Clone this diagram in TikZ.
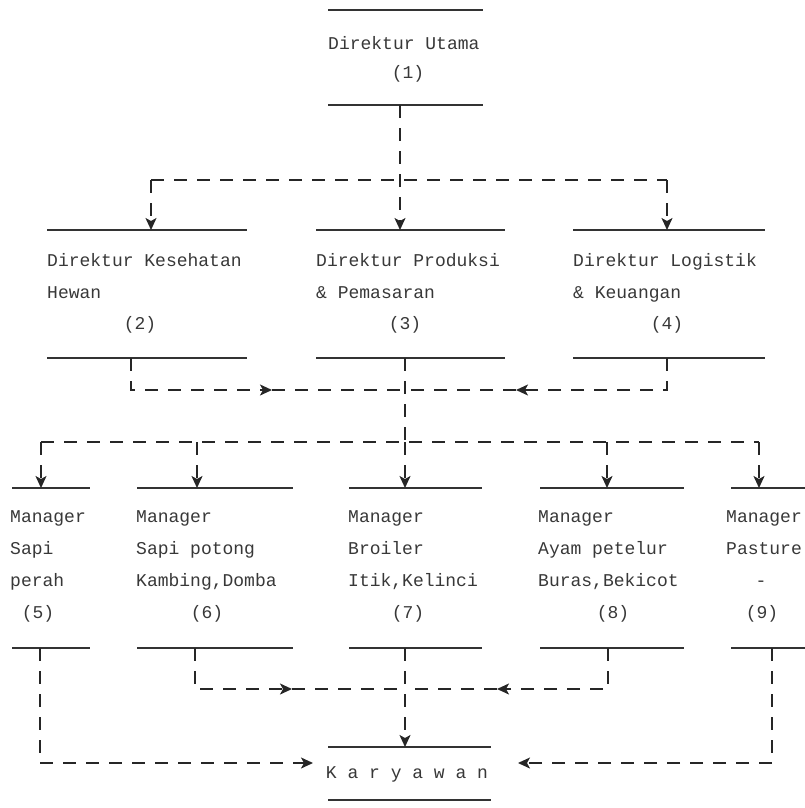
\documentclass[tikz,border=0pt]{standalone}
\usepackage{fontspec}
\newfontfamily\mfont{Liberation Mono}
\usetikzlibrary{arrows.meta}
\begin{document}
\begin{tikzpicture}[x=1pt,y=-1pt,
  rule/.style={line width=1.6pt, draw=black!80},
  conn/.style={line width=1.6pt, draw=black!85, dash pattern=on 13pt off 10pt},
  tip/.style={-{Stealth[length=12pt,width=11pt,inset=3pt]}},
  box/.style={rectangle, inner sep=0pt, outer sep=0pt},
  txt/.style={font=\mfont\fontsize{18}{20}\selectfont, text=black!78, inner sep=0pt, anchor=base west},
  num/.style={txt, anchor=base}]
\useasboundingbox (0,0) rectangle (804,808);

% boxes (pairs of rules)
\node[box, minimum width=155pt, minimum height=95pt]  (b1) at (405.5,57.5) {};
\node[box, minimum width=200pt, minimum height=128pt] (b2) at (147,294) {};
\node[box, minimum width=189pt, minimum height=128pt] (b3) at (410.5,294) {};
\node[box, minimum width=192pt, minimum height=128pt] (b4) at (669,294) {};
\node[box, minimum width=78pt,  minimum height=160pt] (b5) at (51,568) {};
\node[box, minimum width=156pt, minimum height=160pt] (b6) at (215,568) {};
\node[box, minimum width=133pt, minimum height=160pt] (b7) at (415.5,568) {};
\node[box, minimum width=144pt, minimum height=160pt] (b8) at (612,568) {};
\node[box, minimum width=75pt,  minimum height=160pt] (b9) at (768.5,568) {};
\node[box, minimum width=163pt, minimum height=53pt]  (bK) at (409.5,773.5) {};
\foreach \n in {b1,b2,b3,b4,b5,b6,b7,b8,b9,bK}
  \draw[rule] (\n.north west) -- (\n.north east) (\n.south west) -- (\n.south east);

% texts
\node[txt] (t1a) at (328,49) {Direktur Utama};
\node[num] (t1b) at (408,78) {(1)};

\node[txt] (t2a) at (47,266) {Direktur Kesehatan};
\node[txt] (t2b) at (47,298) {Hewan};
\node[num] (t2c) at (140,329) {(2)};

\node[txt] (t3a) at (316,266) {Direktur Produksi};
\node[txt] (t3b) at (316,298) {\& Pemasaran};
\node[num] (t3c) at (405,329) {(3)};

\node[txt] (t4a) at (573,266) {Direktur Logistik};
\node[txt] (t4b) at (573,298) {\& Keuangan};
\node[num] (t4c) at (667,329) {(4)};

\node[txt] (t5a) at (10,522) {Manager};
\node[txt] (t5b) at (10,554) {Sapi};
\node[txt] (t5c) at (10,586) {perah};
\node[num] (t5d) at (38,618) {(5)};

\node[txt] (t6a) at (136,522) {Manager};
\node[txt] (t6b) at (136,554) {Sapi potong};
\node[txt] (t6c) at (136,586) {Kambing,Domba};
\node[num] (t6d) at (207,618) {(6)};

\node[txt] (t7a) at (348,522) {Manager};
\node[txt] (t7b) at (348,554) {Broiler};
\node[txt] (t7c) at (348,586) {Itik,Kelinci};
\node[num] (t7d) at (408,618) {(7)};

\node[txt] (t8a) at (538,522) {Manager};
\node[txt] (t8b) at (538,554) {Ayam petelur};
\node[txt] (t8c) at (538,586) {Buras,Bekicot};
\node[num] (t8d) at (613,618) {(8)};

\node[txt] (t9a) at (726,522) {Manager};
\node[txt] (t9b) at (726,554) {Pasture};
\node[num] (t9c) at (761,586) {-};
\node[num] (t9d) at (762,618) {(9)};

\node[num] (tK) at (407,778) {K a r y a w a n};

% level 1 -> level 2
\coordinate (j1)  at (400,180);
\coordinate (j2L) at (151,180);
\coordinate (j2R) at (667,180);
\draw[conn,tip] (b1.south -| j1) -- (j1 |- b3.north);
\draw[conn] (j2L) -- (j2R);
\draw[conn,tip] (j2L) -- (j2L |- b2.north);
\draw[conn,tip] (j2R) -- (j2R |- b4.north);

% level 2 outputs
\coordinate (o2) at (131,390);
\coordinate (o4) at (667,390);
\coordinate (a2) at (272,390);
\coordinate (a4) at (516,390);
\coordinate (m2) at (405,390);
\draw[conn,tip] (b2.south -| o2) |- (a2);
\draw[conn] (a2) -- (m2);
\draw[conn,tip] (b4.south -| o4) |- (a4);
\draw[conn] (a4) -- (m2);

% level 2 -> level 3
\coordinate (j3)  at (405,442);
\coordinate (j3L) at (41,442);
\coordinate (j3R) at (759,442);
\draw[conn] (b3.south -| j3) -- (j3);
\draw[conn] (j3L) -- (j3R);
\coordinate (d5) at (41,442);
\coordinate (d6) at (197,442);
\coordinate (d7) at (405,442);
\coordinate (d8) at (607,442);
\coordinate (d9) at (759,442);
\draw[conn,tip] (d5) -- (d5 |- b5.north);
\draw[conn,tip] (d6) -- (d6 |- b6.north);
\draw[conn,tip] (d7) -- (d7 |- b7.north);
\draw[conn,tip] (d8) -- (d8 |- b8.north);
\draw[conn,tip] (d9) -- (d9 |- b9.north);

% level 3 outputs
\coordinate (o6) at (195,689);
\coordinate (a6) at (292,689);
\coordinate (m7) at (405,689);
\coordinate (o8) at (608,689);
\coordinate (a8) at (497,689);
\draw[conn,tip] (b6.south -| o6) |- (a6);
\draw[conn] (a6) -- (m7);
\draw[conn,tip] (b8.south -| o8) |- (a8);
\draw[conn] (a8) -- (m7);
\draw[conn,tip] (b7.south -| m7) -- (m7 |- bK.north);

\coordinate (o5) at (40,763);
\coordinate (a5) at (313,763);
\coordinate (o9) at (772,763);
\coordinate (a9) at (518,763);
\draw[conn,tip] (b5.south -| o5) |- (a5);
\draw[conn,tip] (b9.south -| o9) |- (a9);
\end{tikzpicture}
\end{document}
